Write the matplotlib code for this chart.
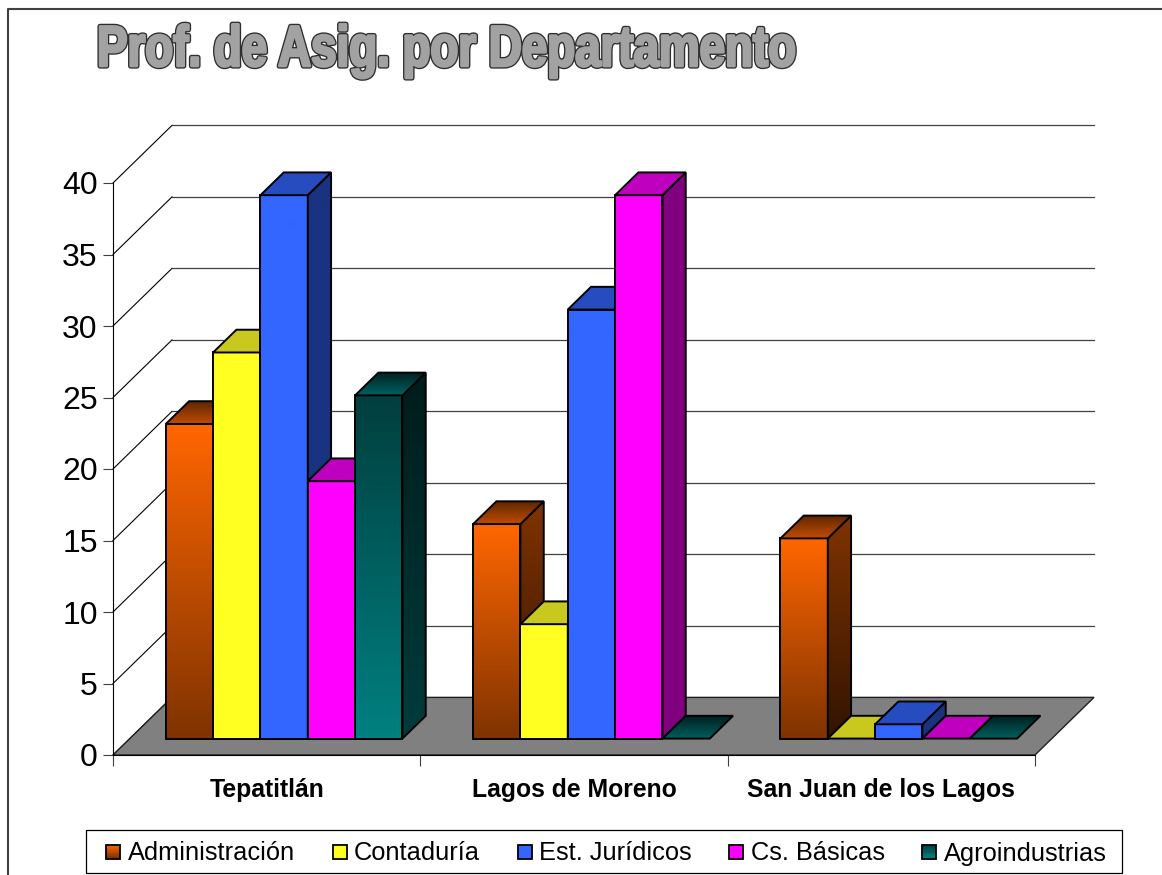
import matplotlib
matplotlib.use("Agg")
import matplotlib.pyplot as plt
import matplotlib.patheffects as pe
from matplotlib.colors import to_rgb
from matplotlib.legend_handler import HandlerBase
from matplotlib.lines import Line2D
from matplotlib.patches import Patch, Polygon, Rectangle
from matplotlib.transforms import Affine2D
import numpy as np

plt.rcParams['font.family'] = ['Liberation Sans', 'DejaVu Sans']

# Data
categories = ["Tepatitlán", "Lagos de Moreno", "San Juan de los Lagos"]
administracion = [22, 15, 14]
contaduria = [27, 8, 0]
juridicos = [38, 30, 1]
basicas = [18, 38, 0]
agroindustrias = [24, 0, 0]
series_names = ["Administración", "Contaduría", "Est. Jurídicos", "Cs. Básicas", "Agroindustrias"]
series_values = [administracion, contaduria, juridicos, basicas, agroindustrias]
y_ticks = [0, 5, 10, 15, 20, 25, 30, 35, 40]

# (front top, front bottom), (side top, side bottom), (lid back, lid front)
styles = [
    (('#ff6600', '#7f3300'), ('#7f3300', '#331400'), ('#5f2600', '#bf4c00')),
    (('#ffff22', '#ffff22'), ('#808010', '#808010'), ('#c8c81e', '#c8c81e')),
    (('#3366ff', '#3366ff'), ('#1a3380', '#1a3380'), ('#264cbf', '#264cbf')),
    (('#ff00ff', '#ff00ff'), ('#800080', '#800080'), ('#bf00bf', '#bf00bf')),
    (('#003f3f', '#008080'), ('#001c1c', '#003c3c'), ('#002020', '#006060')),
]

# 3D look, in axis units
wall_dx = 0.192
wall_dy = 4.03
gap_front = 0.285
bar_depth = 0.395
bar_width = 0.154
group_pad = 0.117

W, H = 1162, 875
fig = plt.figure(figsize=(W / 100, H / 100), dpi=100)
ax = fig.add_axes([113 / W, (H - 755) / H, 922 / W, 572 / H])
ax.patch.set_visible(False)

z = [3]


def next_z():
    z[0] += 1
    return z[0]


def face(verts, c_top, c_bottom):
    # polygon with a vertical colour gradient and a black outline
    verts = np.array(verts, dtype=float)
    zo = next_z()
    poly = Polygon(verts, closed=True, facecolor='none', edgecolor='black',
                   linewidth=1.4, joinstyle='miter', clip_on=False, zorder=zo + 0.5)
    ax.add_patch(poly)
    top, bottom = np.array(to_rgb(c_top)), np.array(to_rgb(c_bottom))
    t = np.linspace(0, 1, 64)[:, None, None]
    grad = top[None, None, :] * (1 - t) + bottom[None, None, :] * t
    x0, y0 = verts.min(axis=0)
    x1, y1 = verts.max(axis=0)
    im = ax.imshow(grad, extent=(x0, x1, y0, y1), origin='upper', aspect='auto',
                   interpolation='bilinear', zorder=zo)
    im.set_clip_box(fig.bbox)
    im.set_clip_path(Polygon(verts, closed=True, transform=ax.transData))


def bar3d(x, v, style):
    front, side, lid = style
    y = wall_dy * gap_front
    dx = wall_dx * bar_depth
    dy = wall_dy * bar_depth
    w = bar_width
    if v > 0:
        face([(x, y), (x + w, y), (x + w, y + v), (x, y + v)], front[0], front[1])
        face([(x + w, y), (x + w + dx, y + dy), (x + w + dx, y + dy + v), (x + w, y + v)],
             side[0], side[1])
    face([(x, y + v), (x + w, y + v), (x + w + dx, y + v + dy), (x + dx, y + v + dy)],
         lid[0], lid[1])


# floor and walls
n = len(categories)
ax.add_patch(Polygon([(0, 0), (n, 0), (n + wall_dx, wall_dy), (wall_dx, wall_dy)],
                     closed=True, facecolor='#808080', edgecolor='#202020', linewidth=1,
                     clip_on=False, zorder=2))
for t in y_ticks:
    ax.plot([0, wall_dx], [t, t + wall_dy], color='black', lw=0.8, clip_on=False, zorder=1)
    if t > 0:
        ax.plot([wall_dx, n + wall_dx], [t + wall_dy, t + wall_dy], color='#404040', lw=0.9,
                clip_on=False, zorder=1)

# bars, left to right so that each one covers the side of the last
for i in range(n):
    for j, vals in enumerate(series_values):
        x = i + group_pad + j * bar_width + wall_dx * gap_front
        bar3d(x, vals[i], styles[j])

ax.set_xlim(0, n)
ax.set_ylim(0, 40)
ax.set_aspect('auto')

ax.spines['top'].set_visible(False)
ax.spines['right'].set_visible(False)
ax.spines['left'].set_linewidth(0.8)
ax.spines['bottom'].set_linewidth(0.8)
ax.spines['bottom'].set_zorder(3)
ax.set_yticks(y_ticks)
ax.set_xticks(range(n + 1))
ax.set_xticklabels([])
ax.set_xticks(np.arange(n) + 0.5, minor=True)
ax.set_xticklabels(categories, minor=True, fontsize=17.8, fontweight='bold')
ax.tick_params(axis='x', which='major', length=8, width=0.8, color='#404040')
ax.tick_params(axis='x', which='minor', length=0, pad=16.5)
ax.tick_params(axis='y', length=7.5, width=0.8, color='#404040', pad=3.5, labelsize=23)


class TallStroke(pe.AbstractPathEffect):
    # draws the text taller than it is wide, the way the WordArt title is
    def __init__(self, k, linewidth, edge, fill):
        super().__init__()
        self.k, self.linewidth, self.edge, self.fill = k, linewidth, edge, fill

    def draw_path(self, renderer, gc, tpath, affine, rgbFace=None):
        m = affine.get_matrix()
        x0, y0 = m[0, 2], m[1, 2]
        tall = affine + Affine2D().translate(-x0, -y0).scale(1, self.k).translate(x0, y0)
        gc0 = renderer.new_gc()
        gc0.copy_properties(gc)
        gc0.set_linewidth(self.linewidth)
        gc0.set_foreground(self.edge)
        renderer.draw_path(gc0, tpath, tall, to_rgb(self.fill))
        gc0.restore()


# title, heavy outlined lettering
fig.text(97 / W, 1 - 66 / H, "Prof. de Asig. por Departamento",
         fontsize=32.9, fontweight='bold', color='#a2a2a2', va='baseline', ha='left',
         path_effects=[TallStroke(1.26, 3.8, '#2e2e2e', '#a2a2a2'),
                       TallStroke(1.26, 1.9, '#a2a2a2', '#a2a2a2')])

# frame of the chart area, open on the right and at the bottom
fig.add_artist(Line2D([8 / W, 8 / W, 1], [0, 1 - 9 / H, 1 - 9 / H], color='#404040', lw=1.5))


class GradientHandler(HandlerBase):
    # small square with the colours of the bar front
    def create_artists(self, legend, orig_handle, xdescent, ydescent, width, height, fontsize, trans):
        top, bottom = orig_handle.grad
        top, bottom = np.array(to_rgb(top)), np.array(to_rgb(bottom))
        side = 14 * 0.72
        x0 = xdescent
        y0 = -ydescent + (height - side) / 2
        artists = []
        steps = 10
        for k in range(steps):
            c = top + (bottom - top) * k / (steps - 1)
            artists.append(Rectangle((x0, y0 + side * (1 - (k + 1) / steps)), side, side / steps,
                                     facecolor=c, edgecolor=c, linewidth=0.2, transform=trans))
        artists.append(Rectangle((x0, y0), side, side, facecolor='none', edgecolor='black',
                                 linewidth=1.3, transform=trans))
        return artists


handles = []
for name, style in zip(series_names, styles):
    h = Patch(label=name)
    h.grad = style[0]
    handles.append(h)

fig.add_artist(Rectangle((86 / W, 1 - 873 / H), 1036 / W, 43 / H, transform=fig.transFigure,
                         facecolor='white', edgecolor='black', linewidth=0.9))
leg = fig.legend(handles=handles, loc='center', bbox_to_anchor=(606.5 / W, 1 - 853.5 / H),
                 ncol=5, fontsize=18.3, frameon=False,
                 handler_map={Patch: GradientHandler()},
                 handlelength=0.55, handleheight=0.7, handletextpad=0.3, columnspacing=1.47,
                 borderpad=0, borderaxespad=0)
leg._legend_handle_box.align = 'top'
leg.set_zorder(5)

fig.savefig("out.png", dpi=100)
